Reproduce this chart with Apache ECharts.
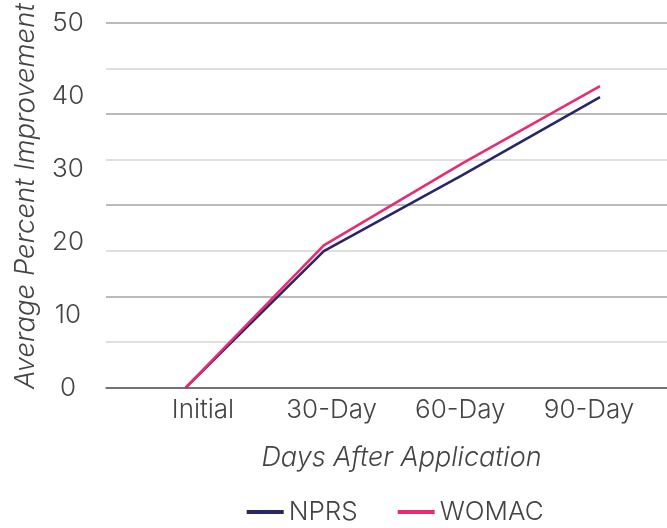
<!DOCTYPE html>
<html>
<head>
<meta charset="utf-8">
<script src="https://cdn.jsdelivr.net/npm/echarts@6/dist/echarts.min.js"></script>
<style>html,body{margin:0;padding:0;background:#fff;}#c{width:667px;height:528px;}</style>
</head>
<body>
<div id="c"></div>
<script>
const categories = ['Initial', '30-Day', '60-Day', '90-Day'];
const nprs = [0, 18.7, 29.1, 39.8];
const womac = [0, 19.5, 30.7, 41.3];
const yTicks = [0, 10, 20, 30, 40, 50];

const FONT = 'Inter';
const FW = 300;
const TXT = '#444444';
const GTOP = 22.7, GBOTTOM = 528 - 387.7;

const chart = echarts.init(document.getElementById('c'), null, {renderer: 'canvas'});
chart.setOption({
  animation: false,
  textStyle: {fontFamily: FONT, fontWeight: FW},
  grid: [
    {left: 106, right: 0, top: GTOP, bottom: GBOTTOM, outerBoundsMode: 'none', containLabel: false},
    {left: 185.7, right: 67, top: GTOP, bottom: GBOTTOM, outerBoundsMode: 'none', containLabel: false},
    {left: 203, right: 78, top: GTOP, bottom: GBOTTOM, outerBoundsMode: 'none', containLabel: false}
  ],
  xAxis: [
    {gridIndex: 0, type: 'category', data: categories, boundaryGap: false,
     axisLine: {show: true, lineStyle: {color: '#6a6a6a', width: 1.5}},
     axisTick: {show: false}, axisLabel: {show: false}, splitLine: {show: false}},
    {gridIndex: 1, type: 'category', data: categories, boundaryGap: false,
     axisLine: {show: false}, axisTick: {show: false}, axisLabel: {show: false}, splitLine: {show: false}},
    {gridIndex: 2, type: 'category', data: categories, boundaryGap: false,
     axisLine: {show: false}, axisTick: {show: false}, splitLine: {show: false},
     axisLabel: {show: true, interval: 0, margin: 9, color: TXT, fontSize: 26, fontFamily: FONT, fontWeight: FW},
     name: 'Days After Application', nameLocation: 'middle', nameGap: 57,
     nameTextStyle: {color: TXT, fontSize: 27, fontStyle: 'italic', fontFamily: FONT, fontWeight: FW, padding: [0, 0, 0, 11]}}
  ],
  yAxis: [
    {gridIndex: 0, type: 'value', min: 0, max: 50, interval: 6.25,
     axisLine: {show: false}, axisTick: {show: false}, axisLabel: {show: false},
     splitLine: {show: true, lineStyle: {color: ['#6a6a6a', '#d4d4d4', '#a3a3a3', '#d4d4d4', '#a3a3a3', '#d4d4d4', '#a3a3a3', '#d4d4d4', '#a3a3a3'], width: 1.5}}},
    {gridIndex: 0, type: 'value', min: 0, max: 50, interval: 10, position: 'left',
     axisLine: {show: false}, axisTick: {show: false}, splitLine: {show: false},
     axisLabel: {show: true, margin: 38, align: 'center', color: TXT, fontSize: 26, fontFamily: FONT, fontWeight: FW,
       formatter: function (v) { return yTicks.indexOf(v) >= 0 ? String(v) : ''; }},
     name: 'Average Percent Improvement', nameLocation: 'middle', nameGap: 67,
     nameTextStyle: {color: TXT, fontSize: 27.5, fontStyle: 'italic', fontFamily: FONT, fontWeight: FW, padding: [0, 0, 0, 18]}},
    {gridIndex: 1, type: 'value', min: 0, max: 50, show: false},
    {gridIndex: 2, type: 'value', min: 0, max: 50, show: false}
  ],
  legend: {
    left: 246.7, top: 499, padding: 0, itemWidth: 37, itemHeight: 4, itemGap: 40, icon: 'rect',
    textStyle: {color: TXT, fontSize: 26, fontFamily: FONT, fontWeight: FW, padding: [0, 0, 0, 0]},
    data: ['NPRS', 'WOMAC']
  },
  series: [
    {name: 'NPRS', type: 'line', xAxisIndex: 1, yAxisIndex: 2, data: nprs,
     showSymbol: false, symbol: 'none', lineStyle: {color: '#27266a', width: 2.6}, itemStyle: {color: '#27266a'}},
    {name: 'WOMAC', type: 'line', xAxisIndex: 1, yAxisIndex: 2, data: womac,
     showSymbol: false, symbol: 'none', lineStyle: {color: '#ea2a72', width: 2.6}, itemStyle: {color: '#ea2a72'}}
  ]
});
</script>
</body>
</html>
